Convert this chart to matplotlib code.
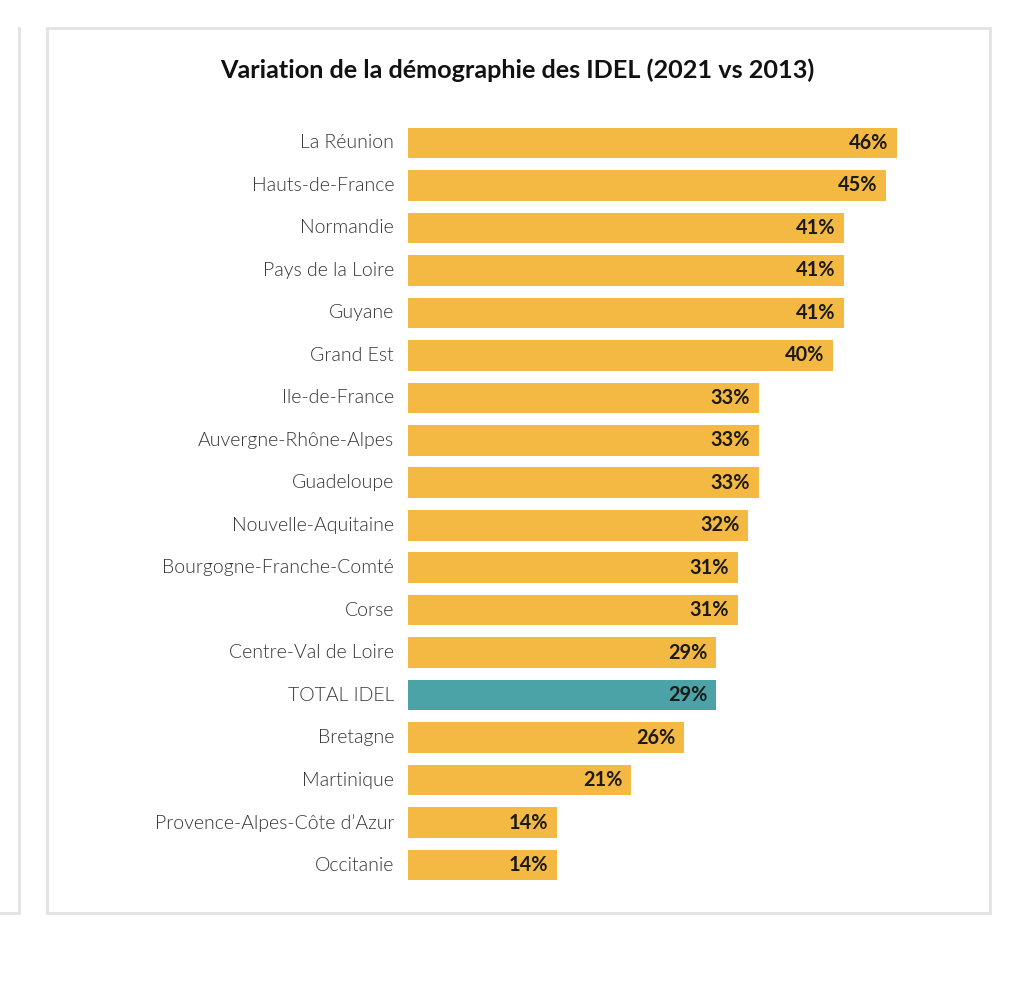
import matplotlib.pyplot as plt
from matplotlib.patches import Rectangle
from matplotlib.lines import Line2D

regions = ["La Réunion", "Hauts-de-France", "Normandie", "Pays de la Loire", "Guyane",
           "Grand Est", "Ile-de-France", "Auvergne-Rhône-Alpes", "Guadeloupe",
           "Nouvelle-Aquitaine", "Bourgogne-Franche-Comté", "Corse", "Centre-Val de Loire",
           "TOTAL IDEL", "Bretagne", "Martinique", "Provence-Alpes-Côte d’Azur", "Occitanie"]
values = [46, 45, 41, 41, 41, 40, 33, 33, 33, 32, 31, 31, 29, 29, 26, 21, 14, 14]
total_label = "TOTAL IDEL"

yellow = "#F4B942"
teal = "#4BA3A7"
border = "#e2e2e2"

plt.rcParams['font.family'] = ['Lato', 'DejaVu Sans']

W, H = 1032, 994
fig = plt.figure(figsize=(W / 100, H / 100), dpi=100)
fig.patch.set_facecolor("white")

# panel frames (pixel coords -> figure fraction)
def fx(px):
    return px / W

def fy(py):
    return 1 - py / H

fig.add_artist(Rectangle((fx(47), fy(913)), fx(990) - fx(47), fy(28) - fy(913),
                         transform=fig.transFigure, fill=False, edgecolor=border, lw=2))
fig.add_artist(Line2D([fx(19), fx(19)], [fy(28), fy(913)], transform=fig.transFigure,
                      color=border, lw=2))
fig.add_artist(Line2D([0, fx(19)], [fy(913), fy(913)], transform=fig.transFigure,
                      color=border, lw=2))

fig.text(fx(517), fy(70), "Variation de la démographie des IDEL (2021 vs 2013)",
         ha="center", va="center", fontsize=18.2, fontweight="bold", color="#111111")

# axes placed so that 0 -> x=408px and 46 -> x=897px
step = 42.5
top = 143 - step / 2
bottom = 865 + step / 2
ax = fig.add_axes([fx(408), fy(bottom), fx(897) - fx(408), fy(top) - fy(bottom)])
ax.set_xlim(0, 46)
ax.set_ylim(len(regions) - 0.5, -0.5)
ax.axis("off")

colors = [teal if r == total_label else yellow for r in regions]
ax.barh(range(len(regions)), values, height=0.72, color=colors, clip_on=False)

for i, (r, v) in enumerate(zip(regions, values)):
    ax.text(v - 0.8, i, f"{v}%", ha="right", va="center", fontsize=14.3,
            fontweight="bold", color="#1c1a16")
    ax.text(-1.3, i, r, ha="right", va="center", fontsize=14, fontweight=300,
            color="#333333")

plt.savefig("out.png", dpi=100)
